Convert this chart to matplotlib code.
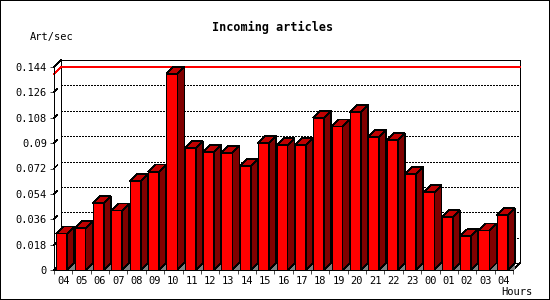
import matplotlib
matplotlib.use("Agg")
import matplotlib.pyplot as plt
from matplotlib.patches import Polygon, Rectangle

# data
hours = ["04", "05", "06", "07", "08", "09", "10", "11", "12", "13", "14", "15", "16",
         "17", "18", "19", "20", "21", "22", "23", "00", "01", "02", "03", "04"]
art_per_sec = [0.0260, 0.0296, 0.0473, 0.0423, 0.0629, 0.0698, 0.1390, 0.0865, 0.0835,
               0.0830, 0.0737, 0.0899, 0.0886, 0.0885, 0.1078, 0.1019, 0.1119, 0.0943,
               0.0920, 0.0679, 0.0551, 0.0374, 0.0239, 0.0281, 0.0388]
y_ticks = [0, 0.018, 0.036, 0.054, 0.072, 0.09, 0.108, 0.126, 0.144]
y_labels = ["0", "0.018", "0.036", "0.054", "0.072", "0.09", "0.108", "0.126", "0.144"]

FONT = "DejaVu Sans Mono"
W, H = 550, 300
FRONT = "#ff0000"
SIDE = "#800000"
TOP = "#c00000"
LW = 0.5  # ~1 px

# crisp, gd-like lines
plt.rcParams["lines.antialiased"] = False
plt.rcParams["patch.antialiased"] = False
plt.rcParams["lines.scale_dashes"] = False

fig = plt.figure(figsize=(W / 100, H / 100), dpi=100)
# outer border of the picture (half of it falls off the canvas)
fig.patch.set_facecolor("white")
fig.patch.set_edgecolor("black")
fig.patch.set_linewidth(1.44)

# front plot area in pixels: x 54..513, y 270..67
ax_w, ax_h = 459, 203
ax = fig.add_axes([54 / W, 30 / H, ax_w / W, ax_h / H])
n = len(hours)
ymax = y_ticks[-1]
ax.set_xlim(-0.5, n - 0.5)
ax.set_ylim(0, ymax)
ax.set_facecolor("none")

# depth of the 3d effect (7 px) in data units
depth_px = 7
dx = depth_px * n / ax_w
dy = depth_px * ymax / ax_h

# back wall frame
ax.add_patch(Rectangle((-0.5 + dx, dy), n, ymax, fill=False, edgecolor="black",
                       linewidth=LW, clip_on=False, zorder=1))
ax.plot([-0.5, -0.5 + dx], [ymax, ymax + dy], color="black", lw=LW, clip_on=False, zorder=1)
ax.plot([n - 0.5, n - 0.5 + dx], [0, dy], color="black", lw=LW, clip_on=False, zorder=1)

# dotted grid on the back wall + small diagonal tick stubs
for v in y_ticks[1:-1]:
    ax.plot([-0.5 + dx, n - 0.5 + dx], [v + dy, v + dy], color="black", lw=LW,
            dashes=(1.44, 1.44), clip_on=False, zorder=1)
for v in y_ticks:
    ax.plot([-0.5, -0.5 + dx * 0.45], [v, v + dy * 0.45], color="black", lw=LW,
            clip_on=False, zorder=1)

# max value line (red) on the back wall
peak = max(art_per_sec)
ax.plot([-0.5, -0.5 + dx, n - 0.5 + dx], [peak, peak + dy, peak + dy], color="#ff0000",
        lw=LW, clip_on=False, zorder=2)

# bars: front face, side, top and little floor shadow
width = 0.6
xs = [i - 0.38 for i in range(n)]
ax.bar(xs, art_per_sec, width=width, align="edge", color=FRONT, edgecolor="black",
       linewidth=LW, zorder=4)
for xl, v in zip(xs, art_per_sec):
    xr = xl + width
    ax.add_patch(Polygon([(xr, 0), (xr + dx, dy), (xr + dx, 0)], closed=True,
                         facecolor="#808080", edgecolor="none", clip_on=False, zorder=3))
    ax.add_patch(Polygon([(xr, 0), (xr, v), (xr + dx, v + dy), (xr + dx, dy)], closed=True,
                         facecolor=SIDE, edgecolor="black", linewidth=LW, clip_on=False, zorder=4))
    ax.add_patch(Polygon([(xl, v), (xr, v), (xr + dx, v + dy), (xl + dx, v + dy)], closed=True,
                         facecolor=TOP, edgecolor="black", linewidth=LW, clip_on=False, zorder=4))

# axes, ticks and labels
for side in ["top", "right"]:
    ax.spines[side].set_visible(False)
for side in ["left", "bottom"]:
    ax.spines[side].set_linewidth(LW)
    ax.spines[side].set_zorder(5)

ax.set_yticks(y_ticks)
ax.set_yticklabels(y_labels, fontfamily=FONT, fontsize=7.5)
ax.tick_params(axis="y", direction="out", length=3, width=LW, pad=2)

ax.set_xticks(range(n))
ax.set_xticklabels(hours, fontfamily=FONT, fontsize=7.5)
ax.set_xticks([i - 0.5 for i in range(n + 1)], minor=True)
ax.tick_params(axis="x", which="major", length=0, pad=4)
ax.tick_params(axis="x", which="minor", direction="out", length=3, width=LW)

fig.text(273 / W, 1 - 27 / H, "Incoming articles", ha="center", va="center",
         fontfamily=FONT, fontsize=8.5, fontweight="bold")
fig.text(30 / W, 1 - 37 / H, "Art/sec", ha="left", va="center", fontfamily=FONT, fontsize=7.5)
fig.text(533 / W, 1 - 292 / H, "Hours", ha="right", va="center", fontfamily=FONT, fontsize=7.5)

fig.savefig("out.png", dpi=100, edgecolor=fig.get_edgecolor())
